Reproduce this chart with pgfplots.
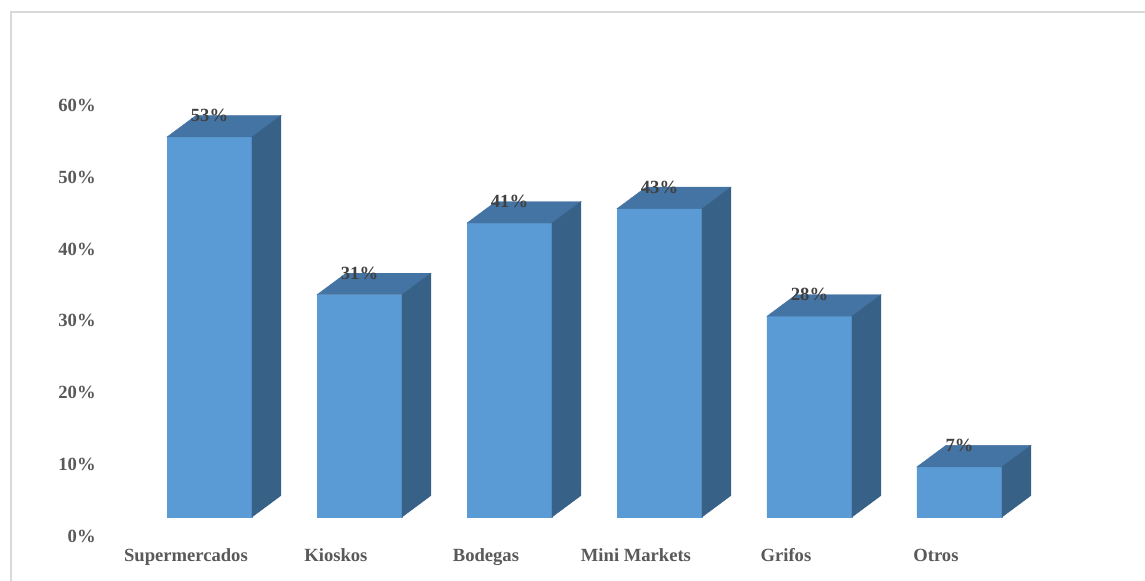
\documentclass[border=0pt]{standalone}
\usepackage{pgfplots}
\usepackage{pgfplotstable}
\pgfplotsset{compat=1.18}
\usepackage{fontspec}
\setmainfont{Liberation Serif}
\definecolor{frontc}{RGB}{91,155,213}
\definecolor{topc}{RGB}{68,116,163}
\definecolor{sidec}{RGB}{55,97,134}
\definecolor{tickc}{RGB}{89,89,89}
\definecolor{labc}{RGB}{64,64,64}
\definecolor{framec}{RGB}{217,217,217}
\pgfplotstableread{
x v
0 53
1 31
2 41
3 43
4 28
5 7
}\data
\begin{document}
\begin{tikzpicture}
\useasboundingbox (0,0) rectangle (572.5pt,290pt);
\fill[white] (0,0) rectangle (572.5pt,290pt);
\draw[framec, line width=1.3pt] (5.5pt,-10pt) -- (5.5pt,284pt) -- (590pt,284pt);
\begin{axis}[
  at={(0,0)}, anchor=south west,
  scale only axis, width=572.5pt, height=290pt,
  xmin=-1.3967, xmax=6.2367,
  ymin=-8.787, ymax=72.106,
  axis line style={draw=none},
  major tick length=0pt,
  xtick={-0.157,0.843,1.843,2.843,3.843,4.843},
  xticklabels={Supermercados,Kioskos,Bodegas,Mini Markets,Grifos,Otros},
  ytick={-2.65,7.35,17.35,27.35,37.35,47.35,57.35},
  yticklabels={0\%,10\%,20\%,30\%,40\%,50\%,60\%},
  xticklabel style={anchor=base, inner sep=0pt, yshift=9.2pt, text=tickc, font=\fontsize{9.3}{11}\selectfont\bfseries},
  yticklabel style={anchor=east, inner sep=0pt, xshift=48pt, text=tickc, font=\fontsize{9.3}{11}\selectfont\bfseries},
  clip=false,
]
\addplot[ybar, bar width=42.5pt, fill=frontc, draw=frontc, line width=0.2pt] table[x=x, y=v] {\data};
\pgfplotsinvokeforeach{0,...,5}{
  \pgfplotstablegetelem{#1}{v}\of\data
  \pgfmathsetmacro\vt{\pgfplotsretval}
  \pgfmathsetmacro\vtt{\vt+3.0}
  \pgfmathsetmacro\xl{#1-0.2833}
  \pgfmathsetmacro\xr{#1+0.2833}
  \pgfmathsetmacro\xll{#1-0.2833+0.1933}
  \pgfmathsetmacro\xrr{#1+0.2833+0.1933}
  \edef\tmp{\noexpand\addplot[fill=topc, draw=topc, line width=0.2pt] coordinates {(\xl,\vt) (\xr,\vt) (\xrr,\vtt) (\xll,\vtt)} -- cycle;
  \noexpand\addplot[fill=sidec, draw=sidec, line width=0.2pt] coordinates {(\xr,0) (\xrr,3.0) (\xrr,\vtt) (\xr,\vt)} -- cycle;}
  \tmp
}
\addplot[draw=none, mark=none, point meta=explicit symbolic,
  nodes near coords={\pgfplotspointmeta\%},
  nodes near coords style={anchor=center, inner sep=0pt, text=labc, font=\fontsize{9.3}{11}\selectfont\bfseries}]
  table[x=x, y expr=\thisrow{v}+3.0, meta=v] {\data};
\end{axis}
\end{tikzpicture}
\end{document}
